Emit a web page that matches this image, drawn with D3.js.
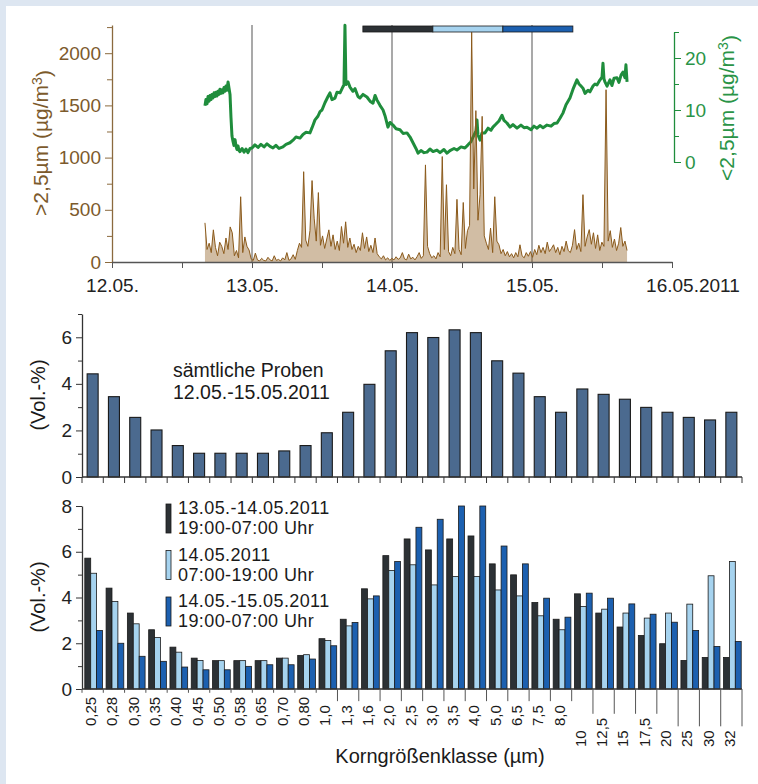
<!DOCTYPE html>
<html>
<head>
<meta charset="utf-8">
<script src="https://cdn.jsdelivr.net/npm/d3@7"></script>
<style>
  html, body { margin: 0; padding: 0; background: #fff; }
  svg { display: block; font-family: "Liberation Sans", Arial, Helvetica, sans-serif; }
</style>
</head>
<body>
<svg id="chart" width="758" height="784"></svg>
<script>
// ---- Zeitreihe (Tage ab 12.05.2011 00:00) ----
const dayLabels = ["12.05.", "13.05.", "14.05.", "15.05.", "16.05.2011"];

// >2,5 µm, regelmäßig abgetastet
const coarseStart = 0.664;
const coarseStep = 0.015;
const coarseValues = [
  375, 120, 180, 90, 308, 140, 60, 190, 150, 80,
  230, 120, 336, 280, 60, 110, 40, 625, 90, 240,
  150, 115, 30, 15, 85, 20, 10, 35, 15, 10,
  45, 20, 10, 60, 15, 25, 10, 40, 20, 90,
  15, 30, 70, 25, 110, 180, 140, 865, 210, 150,
  300, 780, 420, 200, 665, 160, 250, 130, 220, 308,
  150, 260, 120, 200, 110, 340, 180, 385, 140, 230,
  120, 170, 90, 150, 110, 280, 130, 240, 100, 160,
  90, 230, 80, 50, 30, 60, 20, 40, 15, 35,
  20, 50, 25, 40, 90, 30, 20, 75, 30, 45,
  20, 50, 90, 35, 60, 930, 150, 80, 40, 60,
  30, 90, 50, 1010, 120, 740, 100, 60, 140, 80,
  600, 120, 70, 570, 130, 300, 350, 2200, 700, 1450,
  400, 645, 1395, 250, 180, 120, 325, 90, 625, 200,
  165, 80, 120, 60, 100, 50, 80, 40, 90, 50,
  165, 60, 40, 90, 55, 100, 45, 120, 70, 160,
  90, 140, 80, 190, 100, 130, 165, 90, 140, 70,
  150, 100, 200, 110, 90, 160, 310, 120, 180, 100,
  645, 150, 240, 310, 170, 280, 130, 260, 110, 190,
  150, 1650, 200, 300, 140, 220, 110, 180, 330, 150,
  200, 110
];

// <2,5 µm
const fineTimes = [
  0.664, 0.671, 0.679, 0.686, 0.693, 0.700, 0.707, 0.714, 0.721, 0.729,
  0.736, 0.743, 0.750, 0.757, 0.764, 0.771, 0.779, 0.786, 0.793, 0.800,
  0.807, 0.814, 0.821, 0.829, 0.836, 0.843, 0.850, 0.857, 0.864, 0.871,
  0.879, 0.886, 0.893, 0.900, 0.907, 0.914, 0.929, 0.943, 0.957, 0.971,
  0.986, 1.000, 1.021, 1.043, 1.064, 1.086, 1.107, 1.129, 1.150, 1.171,
  1.193, 1.221, 1.243, 1.271, 1.293, 1.314, 1.343, 1.364, 1.386, 1.414,
  1.429, 1.450, 1.471, 1.486, 1.500, 1.521, 1.543, 1.557, 1.571, 1.593,
  1.607, 1.629, 1.650, 1.657, 1.664, 1.671, 1.686, 1.700, 1.721, 1.736,
  1.757, 1.771, 1.793, 1.821, 1.843, 1.864, 1.879, 1.893, 1.914, 1.936,
  1.950, 1.971, 1.986, 2.007, 2.029, 2.057, 2.079, 2.107, 2.129, 2.150,
  2.171, 2.186, 2.207, 2.229, 2.250, 2.271, 2.293, 2.321, 2.343, 2.371,
  2.393, 2.414, 2.443, 2.464, 2.493, 2.521, 2.543, 2.564, 2.579, 2.600,
  2.607, 2.614, 2.629, 2.643, 2.664, 2.686, 2.707, 2.721, 2.743, 2.764,
  2.786, 2.800, 2.821, 2.843, 2.864, 2.893, 2.921, 2.943, 2.964, 2.993,
  3.014, 3.036, 3.057, 3.079, 3.107, 3.136, 3.157, 3.179, 3.200, 3.221,
  3.243, 3.271, 3.293, 3.321, 3.336, 3.350, 3.364, 3.379, 3.400, 3.414,
  3.436, 3.450, 3.464, 3.486, 3.500, 3.507, 3.514, 3.521, 3.536, 3.557,
  3.571, 3.586, 3.607, 3.621, 3.636, 3.650, 3.664, 3.671, 3.679
];
const fineValues = [
  10.8, 12.0, 11.2, 12.6, 11.7, 12.8, 12.0, 13.0, 12.3, 13.3,
  12.6, 13.4, 12.7, 13.6, 13.0, 14.0, 13.2, 13.9, 13.3, 14.3,
  13.6, 14.6, 13.8, 15.4, 14.2, 13.0, 8.5, 5.0, 4.0, 3.2,
  4.3, 3.0, 2.4, 3.1, 2.2, 2.0, 2.6, 1.9, 2.5, 1.8,
  2.6, 2.7, 3.3, 2.8, 3.4, 2.9, 3.5, 3.0, 2.7, 3.2,
  2.6, 2.9, 3.4, 3.7, 4.2, 4.8, 4.6, 5.3, 5.7, 5.6,
  6.6, 8.1, 8.8, 9.7, 10.0, 11.4, 12.6, 13.3, 12.0, 12.3,
  13.4, 13.3, 14.5, 14.8, 26.3, 14.9, 15.4, 14.4, 13.6, 14.1,
  12.6, 12.3, 13.0, 12.5, 11.7, 11.3, 12.8, 11.9, 10.9, 10.0,
  8.9, 6.7, 7.6, 7.1, 6.4, 6.2, 5.5, 5.6, 4.8, 3.7,
  2.6, 1.7, 2.2, 1.8, 1.9, 2.5, 2.0, 2.3, 1.8, 2.4,
  1.7, 2.2, 2.6, 2.3, 2.9, 2.7, 3.3, 3.9, 4.8, 6.0,
  8.1, 5.2, 4.2, 5.6, 5.6, 6.5, 6.1, 6.7, 7.3, 7.9,
  9.0, 8.0, 7.5, 6.7, 7.2, 6.5, 7.1, 6.6, 6.7, 6.2,
  6.9, 6.5, 7.0, 6.6, 7.1, 6.9, 7.4, 7.5, 8.4, 9.4,
  11.0, 12.3, 14.0, 15.8, 15.0, 14.6, 14.2, 13.2, 13.8, 13.5,
  14.6, 15.0, 14.8, 15.8, 16.3, 19.0, 16.0, 15.4, 14.6, 15.8,
  14.7, 16.1, 16.2, 15.3, 16.7, 17.3, 16.2, 18.7, 15.4
];

// Probenzeiträume (Balken oben)
const periodStart = [1.792, 2.292, 2.792];
const periodEnd = [2.292, 2.792, 3.292];

// ---- Korngrößenverteilung ----
const sizeClasses = ["0,25", "0,28", "0,30", "0,35", "0,40", "0,45", "0,50", "0,58", "0,65", "0,70",
  "0,80", "1,0", "1,3", "1,6", "2,0", "2,5", "3,0", "3,5", "4,0", "5,0",
  "6,5", "7,5", "8,0", "10", "12,5", "15", "17,5", "20", "25", "30", "32"];

const allSamples = [4.43, 3.45, 2.56, 2.02, 1.35, 1.02, 1.02, 1.02, 1.02, 1.12,
  1.35, 1.9, 2.78, 3.98, 5.42, 6.2, 5.99, 6.32, 6.2, 4.99,
  4.46, 3.45, 2.78, 3.78, 3.55, 3.34, 2.99, 2.78, 2.56, 2.45, 2.78];

const night1 = [5.72, 4.41, 3.32, 2.59, 1.83, 1.35, 1.24, 1.24, 1.24, 1.35,
  1.47, 2.2, 3.05, 4.38, 5.83, 6.56, 6.08, 6.56, 6.69, 5.47,
  4.99, 3.78, 3.05, 4.16, 3.32, 2.71, 2.34, 1.98, 1.25, 1.38, 1.38];
const day14 = [5.06, 3.83, 2.85, 2.25, 1.61, 1.25, 1.24, 1.24, 1.24, 1.35,
  1.5, 2.12, 2.76, 3.94, 5.18, 5.43, 4.55, 4.92, 4.92, 4.33,
  4.07, 3.2, 2.59, 3.61, 3.49, 3.32, 3.1, 3.32, 3.71, 4.95, 5.57];
const night2 = [2.56, 2.0, 1.43, 1.21, 0.96, 0.84, 0.84, 0.99, 1.06, 1.06,
  1.31, 1.89, 2.91, 4.07, 5.57, 7.07, 7.42, 8.0, 8.0, 6.25,
  5.47, 3.97, 3.14, 4.19, 3.97, 3.72, 3.27, 2.92, 2.56, 1.86, 2.08];

const seriesLabels = [
  ["13.05.-14.05.2011", "19:00-07:00 Uhr"],
  ["14.05.2011", "07:00-19:00 Uhr"],
  ["14.05.-15.05.2011", "19:00-07:00 Uhr"]
];

// ---- Farben ----
const brown = "#8b5a1b";
const brownText = "#7c5a2c";
const green = "#1f8d3c";
const greenText = "#2a9447";
const seriesColors = ["#2c3135", "#a6d3ef", "#1c60b0"];
const outline = "#1a1a1a";

const svg = d3.select("#chart");

// heller Rahmen oben/links
svg.append("rect").attr("width", 758).attr("height", 6).attr("fill", "#dde6f1");
svg.append("rect").attr("width", 6).attr("height", 784).attr("fill", "#dde6f1");

// ================= oberes Diagramm =================
const x = d3.scaleLinear().domain([0, 4]).range([112, 672]);
const yC = d3.scaleLinear().domain([0, 2270]).range([262, 25]);
const yF = d3.scaleLinear().domain([0, 25]).range([162, 32]);

// Tageslinien
svg.append("g").selectAll("line")
  .data([1, 2, 3])
  .join("line")
  .attr("x1", d => x(d)).attr("x2", d => x(d))
  .attr("y1", yC.range()[1]).attr("y2", yC(0))
  .attr("stroke", "#707070").attr("stroke-width", 1.2);

// <2,5 µm Linie
const fineData = fineTimes.map((t, i) => [t, fineValues[i]]);
svg.append("path")
  .datum(fineData)
  .attr("fill", "none")
  .attr("stroke", green)
  .attr("stroke-width", 3)
  .attr("stroke-linejoin", "round")
  .attr("d", d3.line().x(d => x(d[0])).y(d => yF(d[1])));

// >2,5 µm Spitzen
const coarseArea = d3.area()
  .x((d, i) => x(coarseStart + i * coarseStep))
  .y0(yC(0))
  .y1(d => yC(d));
svg.append("path")
  .datum(coarseValues)
  .attr("fill", brown).attr("fill-opacity", 0.4)
  .attr("d", coarseArea);
svg.append("path")
  .datum(coarseValues)
  .attr("fill", "none")
  .attr("stroke", brown).attr("stroke-width", 1)
  .attr("d", d3.line().x((d, i) => x(coarseStart + i * coarseStep)).y(d => yC(d)));

// Probenzeitraum-Balken
svg.append("g").selectAll("rect")
  .data(periodStart)
  .join("rect")
  .attr("x", d => x(d))
  .attr("y", 26)
  .attr("width", (d, i) => x(periodEnd[i]) - x(d))
  .attr("height", 6)
  .attr("fill", (d, i) => seriesColors[i])
  .attr("stroke", outline).attr("stroke-width", 0.8);

// linke Achse
const gyC = svg.append("g")
  .attr("transform", "translate(112,0)")
  .call(d3.axisLeft(yC)
    .tickValues(d3.range(0, 2251, 250))
    .tickFormat(d => d % 500 === 0 ? d : "")
    .tickSizeOuter(0)
    .tickPadding(5));
gyC.select(".domain").attr("stroke", "#8b6a3e").attr("stroke-width", 1.3);
gyC.selectAll(".tick line").attr("stroke", "#8b6a3e").attr("x2", d => d % 500 === 0 ? -7 : -5);
gyC.selectAll(".tick text").attr("fill", brownText).style("font-size", "19px").attr("x", -11);

// Zeitachse
const gx = svg.append("g")
  .attr("transform", `translate(0,${yC(0)})`)
  .call(d3.axisBottom(x)
    .tickValues(d3.range(0, 4.01, 0.5))
    .tickFormat(d => Number.isInteger(d) ? dayLabels[d] : "")
    .tickSize(6)
    .tickSizeOuter(0)
    .tickPadding(11));
gx.select(".domain").attr("stroke", "#555").attr("stroke-width", 1.3);
gx.selectAll(".tick line").attr("stroke", "#555");
gx.selectAll(".tick text").attr("fill", "#222").style("font-size", "19px");
// letzte Beschriftung: Tag mittig unter dem Strich, Jahr hängt rechts an
gx.selectAll(".tick text").filter(d => d === 4).each(function () {
  const t = d3.select(this);
  t.text(dayLabels[4].slice(0, 6));
  const w = this.getComputedTextLength();
  t.text(dayLabels[4]).attr("text-anchor", "start").attr("x", -w / 2);
});

// rechte Achse
const gyF = svg.append("g")
  .attr("transform", "translate(674,0)")
  .call(d3.axisRight(yF)
    .tickValues([0, 5, 10, 15, 20, 25])
    .tickFormat(d => d % 10 === 0 ? d : "")
    .tickSizeOuter(0)
    .tickPadding(5));
gyF.select(".domain").attr("stroke", green).attr("stroke-width", 1.3);
gyF.selectAll(".tick line").attr("stroke", green).attr("x2", d => d % 10 === 0 ? 7 : 5);
gyF.selectAll(".tick text").attr("fill", greenText).style("font-size", "19px").attr("x", 11);

// Achsentitel mit hochgestellter 3
function unitLabel(g, prefix, color) {
  const t = g.append("text")
    .attr("text-anchor", "middle")
    .attr("fill", color)
    .style("font-size", "21px");
  t.append("tspan").text(prefix + " (µg/m");
  t.append("tspan").attr("dy", "-0.45em").style("font-size", "14px").text("3");
  t.append("tspan").attr("dy", "0.45em").text(")");
}
unitLabel(svg.append("g").attr("transform", "translate(48,143) rotate(-90)"), ">2,5µm", brownText);
unitLabel(svg.append("g").attr("transform", "translate(734,108) rotate(-90)"), "<2,5µm", greenText);

// ================= Korngrößen =================
const xb = d3.scaleBand().domain(sizeClasses).range([82, 742]);
const bw = xb.bandwidth();

// --- mittleres Diagramm: sämtliche Proben ---
const yM = d3.scaleLinear().domain([0, 7]).range([477, 314]);

svg.append("g").selectAll("rect")
  .data(allSamples)
  .join("rect")
  .attr("x", (d, i) => xb(sizeClasses[i]) + (bw - 11) / 2)
  .attr("y", d => yM(d))
  .attr("width", 11)
  .attr("height", d => yM(0) - yM(d))
  .attr("fill", "#4b6a8f")
  .attr("stroke", outline).attr("stroke-width", 1.1);

const gyM = svg.append("g")
  .attr("transform", "translate(82,0)")
  .call(d3.axisLeft(yM)
    .tickValues(d3.range(0, 8))
    .tickFormat(d => d % 2 ? "" : d)
    .tickSizeOuter(0));
gyM.select(".domain").attr("stroke", "#333").attr("stroke-width", 1.3);
gyM.selectAll(".tick line").attr("stroke", "#333").attr("x2", d => d % 2 ? -4 : -6);
gyM.selectAll(".tick text").attr("fill", "#222").style("font-size", "19px").attr("x", -10);

// untere Linie mit Klassengrenzen
const boundaries = d3.range(sizeClasses.length + 1).map(k => xb.range()[0] + k * xb.step());
const gxM = svg.append("g");
gxM.append("line")
  .attr("x1", xb.range()[0]).attr("x2", xb.range()[1])
  .attr("y1", yM(0)).attr("y2", yM(0))
  .attr("stroke", "#333").attr("stroke-width", 1.3);
gxM.selectAll(".sep")
  .data(boundaries)
  .join("line")
  .attr("x1", d => d).attr("x2", d => d)
  .attr("y1", yM(0)).attr("y2", yM(0) + 6)
  .attr("stroke", "#333");

svg.append("text")
  .attr("x", 173).attr("y", 377)
  .style("font-size", "19.5px").attr("fill", "#1a1a1a")
  .selectAll("tspan")
  .data(["sämtliche Proben", "12.05.-15.05.2011"])
  .join("tspan")
  .attr("x", 173)
  .attr("dy", (d, i) => i ? 22 : 0)
  .text(d => d);

// --- unteres Diagramm: Tag/Nacht ---
const yB = d3.scaleLinear().domain([0, 8]).range([689, 506]);
const groups = [night1, day14, night2];
const barW = 5.9;
const groupOffset = 2.8;

svg.append("g").selectAll("g")
  .data(groups)
  .join("g")
  .attr("fill", (d, s) => seriesColors[s])
  .each(function (vals, s) {
    d3.select(this).selectAll("rect")
      .data(vals)
      .join("rect")
      .attr("x", (d, i) => xb(sizeClasses[i]) + groupOffset + s * barW)
      .attr("y", d => yB(d))
      .attr("width", barW)
      .attr("height", d => yB(0) - yB(d))
      .attr("stroke", outline).attr("stroke-width", 0.8);
  });

const gyB = svg.append("g")
  .attr("transform", "translate(82,0)")
  .call(d3.axisLeft(yB)
    .tickValues(d3.range(0, 9))
    .tickFormat(d => d % 2 ? "" : d)
    .tickSizeOuter(0));
gyB.select(".domain").attr("stroke", "#333").attr("stroke-width", 1.3);
gyB.selectAll(".tick line").attr("stroke", "#333").attr("x2", d => d % 2 ? -4 : -6);
gyB.selectAll(".tick text").attr("fill", "#222").style("font-size", "19px").attr("x", -10);

svg.append("line")
  .attr("x1", xb.range()[0]).attr("x2", xb.range()[1])
  .attr("y1", yB(0)).attr("y2", yB(0))
  .attr("stroke", "#333").attr("stroke-width", 1.3);

// Klassenbeschriftung (senkrecht); ab 10 µm tiefer gesetzt
const labelBottom = c => (+c.replace(",", ".") >= 10 ? 747 : 726);
const labelTops = [];
svg.append("g").selectAll("text")
  .data(sizeClasses)
  .join("text")
  .attr("transform", c => `translate(${xb(c) + bw / 2 + 3.5},${labelBottom(c)}) rotate(-90)`)
  .attr("text-anchor", "start")
  .style("font-size", "15px")
  .attr("fill", "#1a1a1a")
  .text(c => c)
  .each(function (c, i) { labelTops[i] = labelBottom(c) - this.getComputedTextLength(); });

svg.append("g").selectAll("line")
  .data(boundaries)
  .join("line")
  .attr("x1", d => d).attr("x2", d => d)
  .attr("y1", yB(0))
  .attr("y2", (d, k) => {
    const tops = [labelTops[k - 1], labelTops[k]].filter(v => v !== undefined);
    return d3.min(tops) - 4;
  })
  .attr("stroke", "#555").attr("stroke-width", 1);

// Legende
const legend = svg.append("g");
seriesLabels.forEach((lines, s) => {
  const y0 = 514 + s * 46.5;
  legend.append("rect")
    .attr("x", 166).attr("y", y0 - 10)
    .attr("width", 5).attr("height", 29)
    .attr("fill", seriesColors[s])
    .attr("stroke", outline).attr("stroke-width", 0.8);
  legend.append("text")
    .style("font-size", "18px").style("letter-spacing", "0.4px").attr("fill", "#1a1a1a")
    .selectAll("tspan")
    .data(lines)
    .join("tspan")
    .attr("x", 178)
    .attr("y", (d, i) => y0 + i * 20.3)
    .text(d => d);
});

// y-Titel
[[45, 395], [45, 597]].forEach(([tx, ty]) => {
  svg.append("text")
    .attr("transform", `translate(${tx},${ty}) rotate(-90)`)
    .attr("text-anchor", "middle")
    .style("font-size", "20px").attr("fill", "#1a1a1a")
    .text("(Vol.-%)");
});

// x-Titel
svg.append("text")
  .attr("x", 440).attr("y", 763)
  .attr("text-anchor", "middle")
  .style("font-size", "20px").attr("fill", "#1a1a1a")
  .text("Korngrößenklasse (µm)");
</script>
</body>
</html>
